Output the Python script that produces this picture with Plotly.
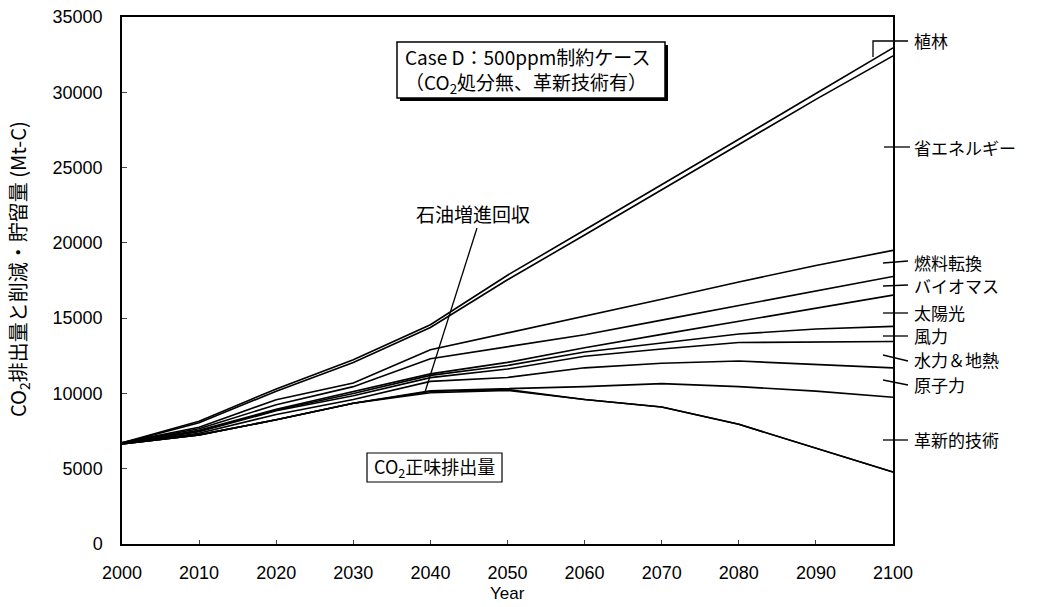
import plotly.graph_objects as go

# Years on the x axis
years = [2000, 2010, 2020, 2030, 2040, 2050, 2060, 2070, 2080, 2090, 2100]

# Cumulative boundary lines (Mt-C), from the net emissions upward
net_emissions = [6650, 7250, 8250, 9350, 10050, 10200, 9600, 9100, 7950, 6350, 4780]
top_oil_recovery = [6650, 7250, 8250, 9350, 10130, 10260, 9600, 9100, 7950, 6350, 4780]
top_innovative = [6650, 7250, 8250, 9350, 10180, 10300, 10450, 10650, 10450, 10150, 9750]
top_nuclear = [6680, 7350, 8600, 9600, 10800, 11060, 11700, 12000, 12150, 11950, 11700]
top_hydro_geo = [6690, 7450, 8850, 9850, 11050, 11620, 12470, 12950, 13380, 13420, 13450]
top_wind = [6700, 7500, 8900, 10000, 11200, 11860, 12750, 13350, 13950, 14280, 14450]
top_solar = [6710, 7550, 8950, 10100, 11300, 12060, 13030, 13920, 14800, 15680, 16530]
top_biomass = [6720, 7650, 9250, 10450, 12300, 13120, 13900, 14870, 15830, 16800, 17770]
top_fuel_switch = [6730, 7750, 9580, 10690, 12900, 14010, 15120, 16250, 17400, 18500, 19500]
top_energy_saving = [6700, 8050, 10150, 12050, 14380, 17550, 20520, 23520, 26540, 29530, 32420]
top_afforestation = [6720, 8150, 10300, 12230, 14560, 17850, 20850, 23850, 26880, 29920, 32950]

series = [
    ("CO2正味排出量", net_emissions),
    ("石油増進回収", top_oil_recovery),
    ("革新的技術", top_innovative),
    ("原子力", top_nuclear),
    ("水力＆地熱", top_hydro_geo),
    ("風力", top_wind),
    ("太陽光", top_solar),
    ("バイオマス", top_biomass),
    ("燃料転換", top_fuel_switch),
    ("省エネルギー", top_energy_saving),
    ("植林", top_afforestation),
]

W, H = 1038, 607
ML, MR, MT, MB = 122, 145, 17, 63
PW, PH = W - ML - MR, H - MT - MB

def px(x):
    return (x - ML) / PW

def py(y):
    return (H - MB - y) / PH

LATIN = "Liberation Sans, Arial, sans-serif"
CJK = "Noto Sans CJK JP, Liberation Sans, sans-serif"

fig = go.Figure()
for name, vals in series:
    fig.add_trace(go.Scatter(
        x=years, y=vals, mode="lines", name=name,
        line=dict(color="black", width=1.6),
        showlegend=False,
    ))

shapes = []
annotations = []

# Case description box with drop shadow
bx0, bx1, by0, by1 = 397, 665, 42, 98
shapes.append(dict(type="rect", xref="paper", yref="paper",
                   x0=px(bx0 + 3), x1=px(bx1 + 3), y0=py(by1 + 3), y1=py(by0 + 3),
                   fillcolor="black", line=dict(width=0), layer="above"))
shapes.append(dict(type="rect", xref="paper", yref="paper",
                   x0=px(bx0), x1=px(bx1), y0=py(by1), y1=py(by0),
                   fillcolor="white", line=dict(color="black", width=1.5), layer="above"))
annotations.append(dict(xref="paper", yref="paper", x=px(403), y=py(70),
                        xanchor="left", yanchor="middle", align="left", showarrow=False,
                        text="Case D：500ppm制約ケース<br>（CO<sub>2</sub>処分無、革新技術有）",
                        font=dict(family=CJK, size=19, color="black")))

# Net emissions box
shapes.append(dict(type="rect", xref="paper", yref="paper",
                   x0=px(367), x1=px(502), y0=py(482), y1=py(453),
                   fillcolor="white", line=dict(color="black", width=1.2), layer="above"))
annotations.append(dict(xref="paper", yref="paper", x=px(434.5), y=py(467.5),
                        xanchor="center", yanchor="middle", showarrow=False,
                        text="CO<sub>2</sub>正味排出量",
                        font=dict(family=CJK, size=18, color="black")))

# Oil recovery pointer
shapes.append(dict(type="line", xref="paper", yref="paper",
                   x0=px(477), y0=py(228), x1=px(425), y1=py(392),
                   line=dict(color="black", width=1.3)))
annotations.append(dict(xref="paper", yref="paper", x=px(473), y=py(214),
                        xanchor="center", yanchor="middle", showarrow=False,
                        text="石油増進回収",
                        font=dict(family=CJK, size=19, color="black")))

# Right-hand labels with leader lines
right_labels = [
    ("省エネルギー", 147, (884, 147, 910, 147)),
    ("燃料転換", 262, (883, 263, 908, 261)),
    ("バイオマス", 285, (883, 286, 908, 285)),
    ("太陽光", 312, (883, 313, 908, 313)),
    ("風力", 336, (883, 336, 908, 336)),
    ("水力＆地熱", 359, (883, 355, 908, 361)),
    ("原子力", 384, (883, 380, 908, 385)),
    ("革新的技術", 439, (883, 440, 908, 440)),
]
for text, ty, (x0, y0, x1, y1) in right_labels:
    shapes.append(dict(type="line", xref="paper", yref="paper",
                       x0=px(x0), y0=py(y0), x1=px(x1), y1=py(y1),
                       line=dict(color="black", width=1.3)))
    annotations.append(dict(xref="paper", yref="paper", x=px(912), y=py(ty),
                            xanchor="left", yanchor="middle", showarrow=False,
                            text=text, font=dict(family=CJK, size=17, color="black")))

# Afforestation bracket
shapes.append(dict(type="path", xref="paper", yref="paper",
                   path=f"M {px(873)} {py(57)} L {px(873)} {py(41)} L {px(908)} {py(41)}",
                   line=dict(color="black", width=1.3)))
annotations.append(dict(xref="paper", yref="paper", x=px(912), y=py(40),
                        xanchor="left", yanchor="middle", showarrow=False,
                        text="植林", font=dict(family=CJK, size=17, color="black")))

# Axis titles
annotations.append(dict(xref="paper", yref="paper", x=px(18), y=py(269),
                        xanchor="center", yanchor="middle", textangle=-90, showarrow=False,
                        text="CO<sub>2</sub>排出量と削減・貯留量 (Mt-C)",
                        font=dict(family=CJK, size=20, color="black")))
annotations.append(dict(xref="paper", yref="paper", x=0.5, y=py(593),
                        xanchor="center", yanchor="middle", showarrow=False,
                        text="Year", font=dict(family=LATIN, size=17, color="black")))

fig.update_layout(
    width=W, height=H,
    margin=dict(l=ML, r=MR, t=MT, b=MB, autoexpand=False),
    paper_bgcolor="white", plot_bgcolor="white",
    shapes=shapes, annotations=annotations,
    xaxis=dict(range=[2000, 2100], tickvals=years, ticks="inside", ticklen=4,
               showline=True, mirror=True, linecolor="black", linewidth=1.5,
               showgrid=False, zeroline=False, ticklabelstandoff=12,
               tickfont=dict(family=LATIN, size=18, color="black")),
    yaxis=dict(range=[0, 35000], dtick=5000, tickformat="d", ticks="inside", ticklen=5,
               showline=True, mirror=True, linecolor="black", linewidth=1.5,
               showgrid=False, zeroline=False, ticklabelstandoff=14,
               tickfont=dict(family=LATIN, size=18, color="black")),
)

fig.write_html("out.html")
